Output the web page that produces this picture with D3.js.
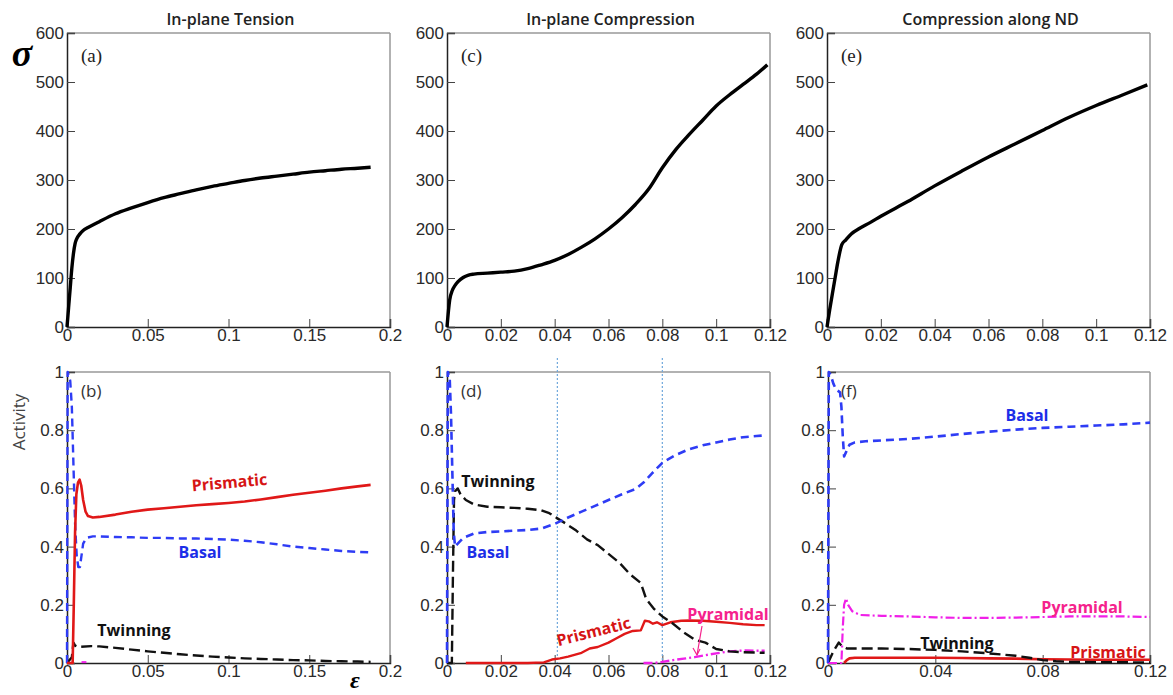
<!DOCTYPE html>
<html><head><meta charset="utf-8">
<script src="https://cdn.jsdelivr.net/npm/d3@7"></script>
<style>
html,body{margin:0;padding:0;background:#fff;}
svg{display:block;}
</style></head>
<body><svg id="c" width="1173" height="695"></svg>
<script>
// ---------- DATA ----------
const panelTitles = ["In-plane Tension", "In-plane Compression", "Compression along ND"];
const panelLetters = ["(a)", "(b)", "(c)", "(d)", "(e)", "(f)"];
const stressTicks = [0, 100, 200, 300, 400, 500, 600];
const activityTicks = [0, 0.2, 0.4, 0.6, 0.8, 1];
const tensionXTicks = [0, 0.05, 0.1, 0.15, 0.2];
const compXTicks = [0, 0.02, 0.04, 0.06, 0.08, 0.1, 0.12];
const ndActXTicks = [0, 0.04, 0.08, 0.12];

// (a) In-plane tension stress–strain
const tensionStress = [[0,0],[0.001,40],[0.002,80],[0.003,120],[0.004,150],[0.005,170],[0.006,180],[0.008,190],[0.01,197],[0.013,203],[0.02,215],[0.03,231],[0.04,243],[0.05,254],[0.06,264],[0.07,272],[0.08,280],[0.09,287],[0.1,293],[0.11,299],[0.12,304],[0.13,308],[0.14,312],[0.15,316],[0.16,319],[0.17,322],[0.18,324],[0.188,326]];
// (c) In-plane compression stress–strain
const compStress = [[0,0],[0.001,55],[0.002,75],[0.003,85],[0.004,92],[0.006,101],[0.008,106],[0.01,108],[0.015,110],[0.02,112],[0.025,114],[0.03,119],[0.035,127],[0.04,136],[0.045,148],[0.05,163],[0.055,180],[0.06,200],[0.065,223],[0.07,250],[0.075,282],[0.08,325],[0.085,362],[0.09,393],[0.095,422],[0.1,451],[0.105,474],[0.11,495],[0.115,516],[0.119,535]];
// (e) Compression along ND stress–strain
const ndStress = [[0,0],[0.001,35],[0.002,68],[0.003,100],[0.004,132],[0.0055,168],[0.007,178],[0.009,190],[0.012,201],[0.016,213],[0.02,226],[0.03,256],[0.04,288],[0.05,318],[0.06,347],[0.07,374],[0.08,401],[0.09,428],[0.1,452],[0.11,474],[0.119,494]];

// (b) tension activities
const tensionPrismatic = [[0,0],[0.0035,0],[0.0042,0.2],[0.005,0.45],[0.0058,0.58],[0.0068,0.62],[0.0078,0.63],[0.0088,0.61],[0.01,0.56],[0.0115,0.52],[0.013,0.505],[0.016,0.5],[0.02,0.502],[0.03,0.51],[0.04,0.52],[0.05,0.527],[0.06,0.532],[0.07,0.537],[0.08,0.542],[0.09,0.546],[0.1,0.55],[0.11,0.555],[0.12,0.562],[0.13,0.57],[0.14,0.578],[0.15,0.585],[0.16,0.592],[0.17,0.6],[0.18,0.607],[0.188,0.612]];
const tensionBasal = [[0,0],[0.0004,1],[0.001,0.99],[0.002,0.97],[0.003,0.88],[0.004,0.68],[0.005,0.48],[0.006,0.37],[0.007,0.33],[0.008,0.33],[0.009,0.37],[0.01,0.41],[0.012,0.43],[0.016,0.435],[0.02,0.435],[0.03,0.433],[0.04,0.432],[0.05,0.43],[0.06,0.43],[0.07,0.428],[0.08,0.428],[0.09,0.426],[0.1,0.424],[0.11,0.42],[0.12,0.415],[0.13,0.408],[0.14,0.4],[0.15,0.395],[0.16,0.39],[0.17,0.385],[0.18,0.382],[0.188,0.38]];
const tensionTwinning = [[0,0],[0.003,0.02],[0.004,0.07],[0.005,0.06],[0.007,0.055],[0.015,0.058],[0.02,0.057],[0.03,0.052],[0.04,0.046],[0.05,0.04],[0.06,0.035],[0.07,0.03],[0.08,0.026],[0.09,0.022],[0.1,0.019],[0.11,0.016],[0.12,0.014],[0.13,0.012],[0.14,0.01],[0.15,0.009],[0.16,0.007],[0.17,0.006],[0.18,0.005],[0.188,0.004]];
const tensionPyramidal = [[0.009,0.003],[0.012,0.003]];

// (d) in-plane compression activities
const compBasal = [[0,0],[0.0003,1],[0.001,0.98],[0.0015,0.85],[0.002,0.65],[0.0025,0.45],[0.003,0.4],[0.004,0.41],[0.006,0.43],[0.01,0.445],[0.015,0.45],[0.02,0.452],[0.025,0.455],[0.03,0.457],[0.035,0.462],[0.04,0.478],[0.045,0.5],[0.05,0.52],[0.055,0.54],[0.06,0.56],[0.065,0.58],[0.07,0.598],[0.073,0.62],[0.076,0.65],[0.08,0.688],[0.085,0.715],[0.09,0.735],[0.095,0.748],[0.1,0.758],[0.105,0.768],[0.11,0.776],[0.115,0.78],[0.118,0.782]];
const compTwinning = [[0,0],[0.0018,0],[0.0022,0.3],[0.0026,0.56],[0.003,0.59],[0.004,0.6],[0.005,0.58],[0.007,0.56],[0.01,0.545],[0.015,0.537],[0.02,0.535],[0.025,0.533],[0.03,0.53],[0.035,0.525],[0.038,0.515],[0.041,0.497],[0.044,0.48],[0.048,0.455],[0.052,0.425],[0.056,0.405],[0.06,0.375],[0.064,0.345],[0.068,0.305],[0.072,0.275],[0.074,0.22],[0.077,0.185],[0.08,0.16],[0.084,0.135],[0.088,0.105],[0.092,0.08],[0.096,0.07],[0.1,0.048],[0.105,0.04],[0.11,0.037],[0.118,0.035]];
const compPrismatic = [[0.007,0],[0.02,0],[0.03,0],[0.036,0.002],[0.039,0.012],[0.042,0.016],[0.045,0.022],[0.05,0.035],[0.053,0.05],[0.056,0.055],[0.06,0.07],[0.063,0.085],[0.066,0.1],[0.069,0.11],[0.072,0.112],[0.0735,0.145],[0.075,0.143],[0.0765,0.135],[0.078,0.14],[0.08,0.13],[0.083,0.14],[0.087,0.145],[0.09,0.146],[0.095,0.145],[0.1,0.142],[0.105,0.138],[0.11,0.133],[0.115,0.13],[0.118,0.13]];
const compPyramidal = [[0.073,0],[0.077,0],[0.08,0.004],[0.084,0.01],[0.088,0.015],[0.092,0.02],[0.096,0.027],[0.1,0.033],[0.105,0.04],[0.11,0.043],[0.118,0.042]];
const compMarkers = [0.041, 0.08];

// (f) ND compression activities
const ndBasal = [[0,0],[0.0003,1],[0.001,0.99],[0.002,0.96],[0.003,0.94],[0.0045,0.93],[0.005,0.88],[0.0055,0.78],[0.006,0.71],[0.007,0.73],[0.008,0.75],[0.01,0.758],[0.014,0.762],[0.02,0.765],[0.03,0.77],[0.04,0.778],[0.05,0.787],[0.06,0.795],[0.07,0.802],[0.08,0.808],[0.09,0.812],[0.1,0.816],[0.11,0.82],[0.12,0.826]];
const ndPyramidal = [[0,0],[0.005,0],[0.0055,0.12],[0.006,0.2],[0.0067,0.222],[0.0075,0.2],[0.009,0.178],[0.012,0.165],[0.02,0.162],[0.03,0.16],[0.04,0.157],[0.05,0.155],[0.06,0.155],[0.07,0.156],[0.08,0.158],[0.09,0.16],[0.1,0.16],[0.11,0.16],[0.12,0.158]];
const ndTwinning = [[0,0],[0.002,0.04],[0.004,0.07],[0.005,0.06],[0.007,0.05],[0.01,0.05],[0.02,0.05],[0.03,0.048],[0.04,0.045],[0.05,0.04],[0.06,0.033],[0.07,0.025],[0.075,0.018],[0.08,0.01],[0.085,0.006],[0.09,0.004],[0.1,0.003],[0.12,0.002]];
const ndPrismatic = [[0.006,0],[0.007,0.01],[0.008,0.016],[0.01,0.018],[0.02,0.018],[0.03,0.018],[0.04,0.018],[0.05,0.017],[0.06,0.016],[0.07,0.015],[0.08,0.013],[0.09,0.012],[0.1,0.011],[0.11,0.011],[0.12,0.011]];

// ---------- DRAW ----------
const svg = d3.select("#c");
const C = {blue:"#2e3cf5", red:"#e01818", black:"#111", mag:"#f020e8",
           blueT:"#1c2ee8", redT:"#d61515", pinkT:"#f5228c"};
const FONT = "'Liberation Sans',Arial,sans-serif";
const LFONT = "'Open Sans',Lato,sans-serif";

const cols = [{x0:67,x1:390},{x0:447,x1:770},{x0:827,x1:1150}];
const rowTop = {y0:33,y1:327}, rowBot = {y0:372,y1:663};

function frame(g, x, y){
  const [a,b] = x.range(), [c,d] = y.range();
  g.append("line").attr("x1",a).attr("x2",b).attr("y1",d).attr("y2",d).attr("stroke","#999").attr("stroke-width",1.5);
  g.append("line").attr("x1",b).attr("x2",b).attr("y1",c).attr("y2",d).attr("stroke","#999").attr("stroke-width",1.5);
}
function axes(g, x, y, xMajor, xMinor, yMajor, yMinor, xFmt, yFmt){
  const [c] = y.range(); const [a] = x.range();
  const ax = g.append("g").attr("transform",`translate(0,${c})`);
  ax.call(d3.axisBottom(x).tickValues(xMinor).tickSize(-4).tickFormat(""));
  ax.call(d3.axisBottom(x).tickValues(xMajor).tickSize(-8).tickPadding(2).tickFormat(xFmt));
  const ay = g.append("g").attr("transform",`translate(${a},0)`);
  ay.call(d3.axisLeft(y).tickValues(yMinor).tickSize(-4).tickFormat(""));
  ay.call(d3.axisLeft(y).tickValues(yMajor).tickSize(-8).tickPadding(3).tickFormat(yFmt));
  g.selectAll(".domain").attr("stroke","#222").attr("stroke-width",1.5);
  g.selectAll(".tick line").attr("stroke","#444").attr("stroke-width",1);
  g.selectAll(".tick text").attr("font-family",FONT).attr("font-size",17).attr("fill","#2a2a2a");
}
function range(a,b,s){const r=[];for(let v=a;v<=b+1e-9;v+=s)r.push(+v.toFixed(4));return r;}
const fmtNum = d => d3.format("~g")(d);

function curve(g,x,y,data,color,w,dash,smooth){
  const line = d3.line().x(d=>x(d[0])).y(d=>y(d[1]));
  if(smooth) line.curve(d3.curveMonotoneX);
  g.append("path").datum(data).attr("d",line).attr("fill","none")
   .attr("stroke",color).attr("stroke-width",w).attr("stroke-linejoin","round")
   .attr("stroke-dasharray",dash||null);
}
function label(g,txt,px,py,color,rot,size){
  g.append("text").attr("x",px).attr("y",py).attr("text-anchor","middle")
   .attr("transform",rot?`rotate(${rot},${px},${py})`:null)
   .attr("font-family",LFONT).attr("font-weight","bold").attr("font-size",size||16)
   .attr("fill",color).text(txt);
}

const stressMinor = range(0,600,20);
const actMinor = range(0,1,0.05);
const xDomains = [[0,0.2],[0,0.12],[0,0.12]];
const xTicksTop = [tensionXTicks, compXTicks, compXTicks];
const xTicksBot = [tensionXTicks, compXTicks, ndActXTicks];
const xMinorTop = [range(0,0.2,0.01), range(0,0.12,0.005), range(0,0.12,0.005)];
const xMinorBot = [range(0,0.2,0.01), range(0,0.12,0.005), range(0,0.12,0.01)];
const stressData = [tensionStress, compStress, ndStress];

const DASH_B = "8,5", DASH_K = "11,5", DASH_M = "9,3,2,3";

cols.forEach((col,i)=>{
  // top panel
  const gT = svg.append("g");
  const x = d3.scaleLinear().domain(xDomains[i]).range([col.x0,col.x1]);
  const y = d3.scaleLinear().domain([0,600]).range([rowTop.y1,rowTop.y0]);
  frame(gT,x,y);
  axes(gT,x,y,xTicksTop[i],xMinorTop[i],stressTicks,stressMinor,fmtNum,fmtNum);
  curve(gT,x,y,stressData[i],"#000",3.4,null,true);
  gT.append("text").attr("x",col.x0+14).attr("y",rowTop.y0+29)
    .attr("font-family","'Liberation Serif','Times New Roman',serif").attr("font-size",19).attr("fill","#222")
    .text(panelLetters[i*2]);
  svg.append("text").attr("x",(col.x0+col.x1)/2+2).attr("y",25).attr("text-anchor","middle")
    .attr("font-family","'Open Sans',sans-serif").attr("font-weight",600).attr("font-size",16).attr("fill","#222")
    .text(panelTitles[i]);

  // bottom panel
  const gB = svg.append("g");
  const xb = d3.scaleLinear().domain(xDomains[i]).range([col.x0+(i==2?1:0),col.x1]);
  const yb = d3.scaleLinear().domain([0,1]).range([rowBot.y1,rowBot.y0]);
  frame(gB,xb,yb);
  axes(gB,xb,yb,xTicksBot[i],xMinorBot[i],activityTicks,actMinor,fmtNum,fmtNum);
  gB.append("text").attr("x",col.x0+14).attr("y",rowBot.y0+25)
    .attr("font-family","'Open Sans',sans-serif").attr("font-size",17).attr("fill","#333")
    .text(panelLetters[i*2+1]);

  if(i===0){
    curve(gB,xb,yb,tensionPyramidal,C.mag,2,DASH_M);
    curve(gB,xb,yb,tensionTwinning,C.black,2.4,DASH_K);
    curve(gB,xb,yb,tensionBasal,C.blue,2.4,DASH_B);
    curve(gB,xb,yb,tensionPrismatic,C.red,2.6);
    label(gB,"Prismatic",230,488,C.redT,-5);
    label(gB,"Basal",200,558,C.blueT,0);
    label(gB,"Twinning",134,636,"#111",0);
  } else if(i===1){
    compMarkers.forEach(m=>{
      gB.append("line").attr("x1",xb(m)).attr("x2",xb(m)).attr("y1",358).attr("y2",rowBot.y1)
        .attr("stroke","#6fa8dc").attr("stroke-width",1.2).attr("stroke-dasharray","2,2");
    });
    curve(gB,xb,yb,compPyramidal,C.mag,2.4,DASH_M);
    curve(gB,xb,yb,compPrismatic,C.red,2.4);
    curve(gB,xb,yb,compTwinning,C.black,2.4,DASH_K);
    curve(gB,xb,yb,compBasal,C.blue,2.6,DASH_B);
    label(gB,"Twinning",498,487,"#111",0);
    label(gB,"Basal",488,558,C.blueT,0);
    label(gB,"Prismatic",595,637,C.redT,-14);
    label(gB,"Pyramidal",728,620,C.pinkT,0);
    const ax0=702, ay0=626, ax1=697, ay1=655;
    gB.append("line").attr("x1",ax0).attr("y1",ay0).attr("x2",ax1).attr("y2",ay1)
      .attr("stroke",C.pinkT).attr("stroke-width",1.2);
    gB.append("path").attr("d",`M${ax1-4},${ay1-7}L${ax1},${ay1}L${ax1+3},${ay1-6}`)
      .attr("fill","none").attr("stroke",C.pinkT).attr("stroke-width",1.2);
  } else {
    curve(gB,xb,yb,ndPrismatic,C.red,2.6);
    curve(gB,xb,yb,ndTwinning,C.black,2.4,DASH_K);
    curve(gB,xb,yb,ndPyramidal,C.mag,2.2,DASH_M);
    curve(gB,xb,yb,ndBasal,C.blue,2.6,DASH_B);
    label(gB,"Basal",1027,421,C.blueT,0);
    label(gB,"Pyramidal",1082,613,C.pinkT,0);
    label(gB,"Twinning",957,649,"#111",0);
    label(gB,"Prismatic",1108,658,C.redT,0);
  }
});

// axis symbols
svg.append("text").attr("x",22).attr("y",66).attr("text-anchor","middle")
  .attr("font-family","'Liberation Serif','Times New Roman',serif").attr("font-style","italic").attr("font-weight","bold")
  .attr("font-size",38).attr("fill","#000").text("σ");
svg.append("text").attr("x",355).attr("y",688).attr("text-anchor","middle")
  .attr("font-family","'Liberation Serif','Times New Roman',serif").attr("font-style","italic").attr("font-weight","bold")
  .attr("font-size",24).attr("fill","#000").text("ε");
svg.append("text").attr("transform","translate(25,422) rotate(-90)").attr("text-anchor","middle")
  .attr("font-family","'Open Sans',sans-serif").attr("font-size",17).attr("fill","#444").text("Activity");
</script></body></html>
